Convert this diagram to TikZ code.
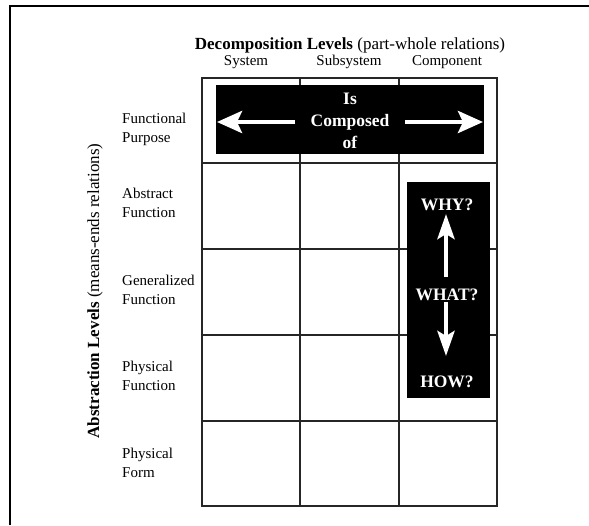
\documentclass[tikz,border=0pt]{standalone}
\usepackage{fontspec}
\setmainfont{Liberation Serif}
\usetikzlibrary{arrows.meta}
\begin{document}
\begin{tikzpicture}[x=1pt,y=-1pt,
  rowlabel/.style={font=\fontsize{15}{19}\selectfont, align=left, anchor=west, inner sep=0pt},
  colhead/.style={font=\fontsize{15}{18}\selectfont, inner sep=0pt},
  axistitle/.style={font=\fontsize{17}{20}\selectfont, inner sep=0pt},
  gridline/.style={line width=2pt, draw=black!85},
  blackbox/.style={fill=black, draw=none},
  boxtext/.style={text=white, font=\bfseries\fontsize{17.5}{22}\selectfont, align=center, inner sep=0pt},
  harrow/.style={white, line width=4.5pt, -{Stealth[length=25pt,width=22pt,inset=5pt]}},
  varrow/.style={white, line width=4.5pt, -{Stealth[length=25pt,width=17pt,inset=5pt]}},
]
\useasboundingbox (0,0) rectangle (589,525);

% outer frame (top and left edges)
\draw[line width=2.5pt] (10,525) -- (10,6) -- (589,6);

% matrix of abstraction x decomposition cells
\draw[gridline] (202,78) rectangle (497,506);
\foreach \yy in {163,249,335,421} \draw[gridline] (202,\yy) -- (497,\yy);
\foreach \xx in {300,399} \draw[gridline] (\xx,78) -- (\xx,506);

% axis titles
\node[axistitle] (dtitle) at (350,45) {\textbf{Decomposition Levels} (part-whole relations)};
\node[axistitle, rotate=90] (atitle) at (95,291) {\textbf{Abstraction Levels} (means-ends relations)};

% column headings
\node[colhead] (sys) at (246,62) {System};
\node[colhead] (sub) at (349,62) {Subsystem};
\node[colhead] (comp) at (447,62) {Component};

% row headings
\node[rowlabel] (fp) at (122,129) {Functional\\Purpose};
\node[rowlabel] (af) at (122,203) {Abstract\\Function};
\node[rowlabel] (gf) at (122,290) {Generalized\\Function};
\node[rowlabel] (pf) at (122,376) {Physical\\Function};
\node[rowlabel] (pform) at (122,463) {Physical\\Form};

% part-whole banner
\node[blackbox, minimum width=268pt, minimum height=69pt] (hbox) at (350,119.5) {};
\node[boxtext] (iscomp) at (350,121) {Is\\Composed\\of};
\coordinate (hl0) at (295,122);
\coordinate (hl1) at (217,122);
\coordinate (hr0) at (405,122);
\coordinate (hr1) at (483,122);
\draw[harrow] (hl0) -- (hl1);
\draw[harrow] (hr0) -- (hr1);

% means-ends banner
\node[blackbox, minimum width=83pt, minimum height=216pt] (vbox) at (448.5,290) {};
\node[boxtext] (why) at (447,205) {WHY?};
\node[boxtext] (what) at (447,295) {WHAT?};
\node[boxtext] (how) at (447,382) {HOW?};
\coordinate (vu0) at (446,277);
\coordinate (vu1) at (446,214);
\coordinate (vd0) at (446,302);
\coordinate (vd1) at (446,356);
\draw[varrow] (vu0) -- (vu1);
\draw[varrow] (vd0) -- (vd1);
\end{tikzpicture}
\end{document}
